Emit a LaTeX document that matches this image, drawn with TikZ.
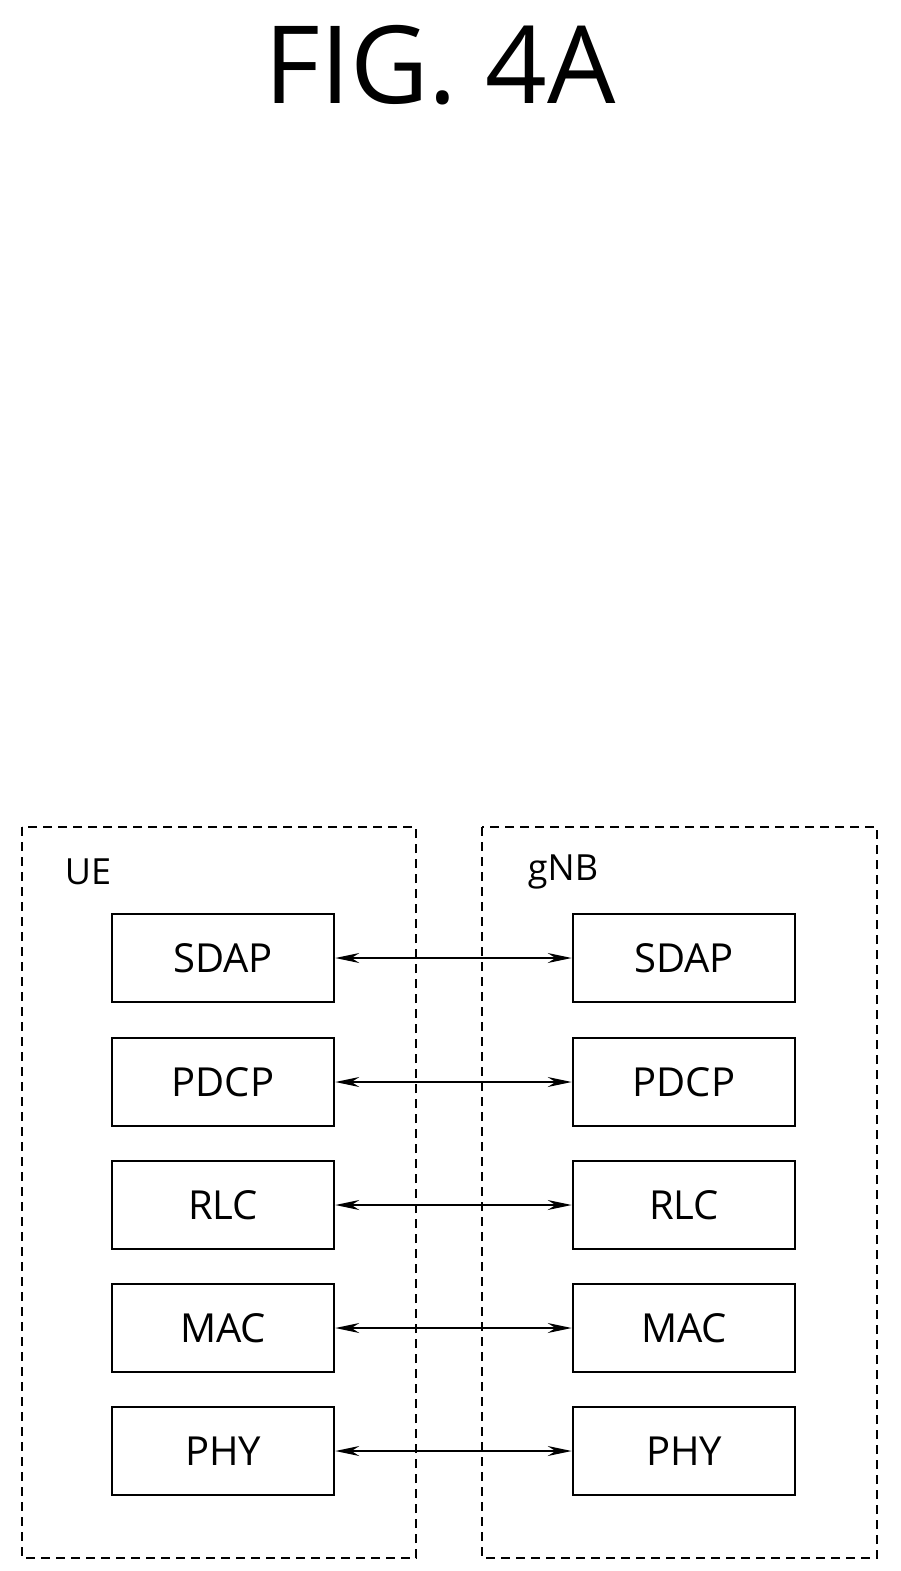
\documentclass[tikz,border=0pt]{standalone}
\usepackage{fontspec}
\setmainfont{Open Sans}
\usetikzlibrary{arrows.meta}
\begin{document}
\begin{tikzpicture}[x=1pt, y=-1pt,
  layer/.style={draw, line width=2.6pt, minimum width=222pt, minimum height=88pt, font=\fontsize{40}{44}\selectfont},
  side/.style={draw, dashed, dash pattern=on 9pt off 6pt, line width=2pt},
  link/.style={line width=1.4pt, {Stealth[length=24pt,width=10pt]}-{Stealth[length=24pt,width=10pt]}}]
  \useasboundingbox (0,0) rectangle (900,1571);
  \node (title) at (440,65) {\fontsize{108}{120}\selectfont FIG. 4A};
  \draw[side] (22,827) rectangle (416,1558);
  \draw[side] (482,827) rectangle (877,1558);
  \node (ue) at (88,872) {\fontsize{36}{40}\selectfont UE};
  \node (gnb) at (563,872) {\fontsize{36}{40}\selectfont gNB};
  \foreach \name/\y in {SDAP/958, PDCP/1082, RLC/1205, MAC/1328, PHY/1451} {
    \node[layer] (ue\name) at (223,\y) {\name};
    \node[layer] (gnb\name) at (684,\y) {\name};
    \draw[link] (ue\name) -- (gnb\name);
  }
\end{tikzpicture}
\end{document}
